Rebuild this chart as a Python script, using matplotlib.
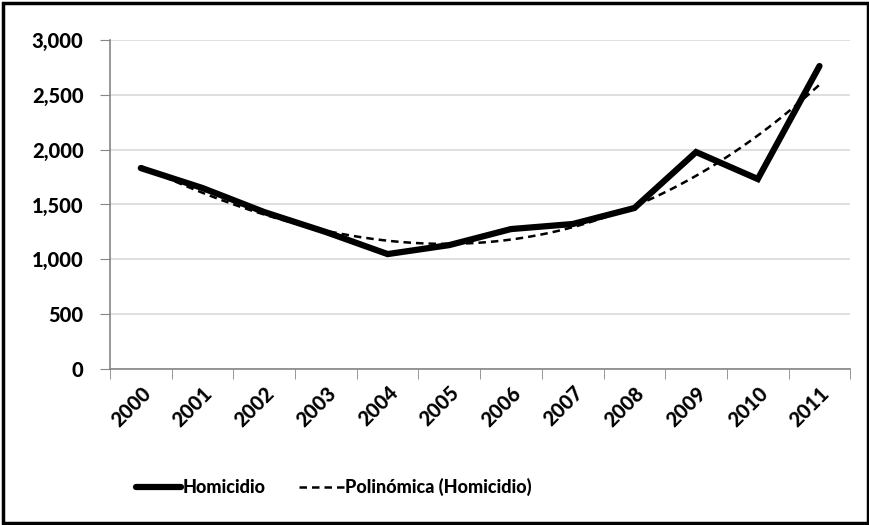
import numpy as np
import matplotlib.pyplot as plt
from matplotlib.patches import Rectangle

# data
years = ["2000", "2001", "2002", "2003", "2004", "2005",
         "2006", "2007", "2008", "2009", "2010", "2011"]
homicidio = [1832, 1650, 1431, 1249, 1048, 1130,
             1276, 1322, 1468, 1978, 1732, 2762]

plt.rcParams['font.family'] = ['Lato', 'DejaVu Sans']
plt.rcParams['font.weight'] = 'black'

fig = plt.figure(figsize=(8.7, 5.25), dpi=100)
ax = fig.add_axes([0.1264, 0.297, 0.851, 0.627])

x = np.arange(len(years))
ax.plot(x, homicidio, color="black", lw=4.5, solid_capstyle="round",
        solid_joinstyle="miter", label="Homicidio", zorder=3)

# polynomial trendline fitted to the series (Excel "Polinómica")
coef = np.polyfit(x, homicidio, 3)
xs = np.linspace(0, len(years) - 1, 200)
ax.plot(xs, np.polyval(coef, xs), color="black", lw=1.8, ls=(0, (3, 2)),
        label="Polinómica (Homicidio)", zorder=4)

ax.set_xlim(-0.5, len(years) - 0.5)
ax.set_ylim(0, 3000)
ax.set_yticks(np.arange(0, 3001, 500))
ax.set_yticklabels([f"{v:,}" for v in range(0, 3001, 500)], fontsize=14.5,
                   fontweight="black")
ax.set_xticks(x)
ax.set_xticklabels(years, rotation=45, ha="right", rotation_mode="anchor",
                   fontsize=14.5, fontweight="black")
ax.set_xticks(np.arange(-0.5, len(years)), minor=True)
ax.tick_params(axis="x", which="major", length=0, pad=10)
ax.tick_params(axis="x", which="minor", length=7, color="#868686", direction="out")
ax.tick_params(axis="y", length=7, color="#868686", pad=12)

ax.grid(axis="y", color="#d9d9d9", lw=1.2)
ax.set_axisbelow(True)
for s in ["top", "right"]:
    ax.spines[s].set_visible(False)
for s in ["left", "bottom"]:
    ax.spines[s].set_color("#868686")
    ax.spines[s].set_linewidth(1.2)

leg = fig.legend(loc="center", bbox_to_anchor=(0.384, 0.072), ncol=2, frameon=False,
                 fontsize=13, handlelength=2.5, columnspacing=1.8, handletextpad=0.1)

# outer chart border
fig.add_artist(Rectangle((0.004, 0.004), 0.994, 0.991, transform=fig.transFigure,
                         fill=False, edgecolor="black", lw=2.5))

fig.savefig("out.png", dpi=100)
